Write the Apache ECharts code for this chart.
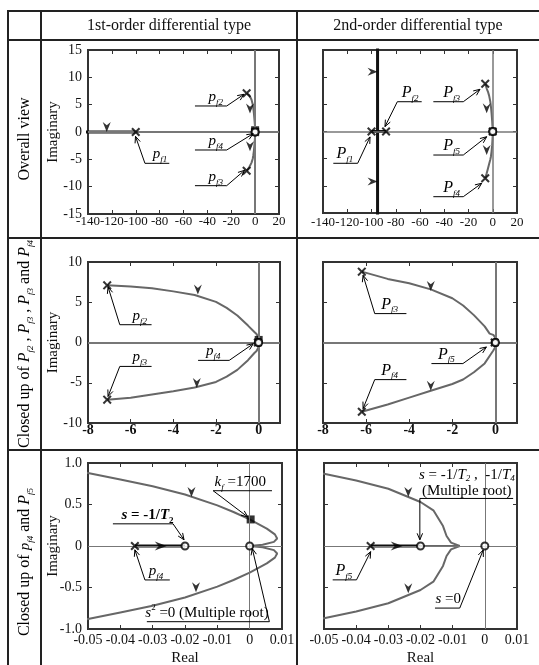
<!DOCTYPE html>
<html><head><meta charset="utf-8">
<script src="https://cdn.jsdelivr.net/npm/echarts@6/dist/echarts.min.js"></script>
<style>html,body{margin:0;padding:0;background:#fff;}#c{width:539px;height:665px;}</style>
</head><body><div id="c"></div>
<script>
// ================= DATA =================
const columnTitles = ['1st-order differential type', '2nd-order differential type'];
const rowTitles = [
  '{n|Overall view}',
  '{n|Closed up of }{I|P}{s|f2}{n| , }{I|P}{s|f3}{n| , }{I|P}{s|f3}{n| and }{I|P}{s|f4}',
  '{n|Closed up of }{i|p}{s|f4}{n| and }{I|P}{s|f5}'
];
// axis ranges [min, max, step]
const overallX = [-140, 20, 20], overallY = [-15, 15, 5];
const zoom1X = [-8, 1, 2], zoom1Y = [-10, 10, 5];
const zoom2X = [-0.05, 0.01, 0.01], zoom2Y = [-1, 1, 0.5];

// ---- 1st-order differential type ----
const A_poles = [[-100, 0], [-7.1, 7.1], [-7.1, -7.1], [-0.0355, 0]];
const A_zeros = [[-0.02, 0], [0, 0]];
const A_gainMark = [[0.0003, 0.32]];
const A_upper = [[-7.1,7.1],[-6,6.95],[-5,6.75],[-4,6.35],[-3,5.9],[-2,5.05],[-1.5,4.3],[-1,3.35],[-0.5,2.1],[-0.2,1.3],[-0.1,1.05],
  [-0.05,0.88],[-0.04,0.80],[-0.03,0.72],[-0.02,0.62],[-0.01,0.49],[-0.005,0.41],[0,0.32],[0.0053,0.21],[0.0078,0.14],[0.0085,0.09],[0.0075,0.05],[0.004,0.015],[0,0]];
const A_lower = [[-7.1,-7.1],[-6,-6.85],[-5,-6.45],[-4,-6.05],[-3,-5.6],[-2,-4.9],[-1.5,-4.25],[-1,-3.4],[-0.5,-2.2],[-0.2,-1.3],[-0.1,-1.05],
  [-0.05,-0.88],[-0.04,-0.80],[-0.03,-0.72],[-0.02,-0.62],[-0.01,-0.49],[-0.005,-0.41],[0,-0.32],[0.0053,-0.21],[0.0078,-0.14],[0.0085,-0.09],[0.0075,-0.05],[0.004,-0.015],[0,0]];
const A_realFar = [[-100, 0], [-300, 0]];
const A_realNear = [[-0.0355, 0], [-0.02, 0]];

// ---- 2nd-order differential type ----
const B_poles = [[-100, 0], [-88, 0], [-6.2, 8.8], [-6.2, -8.6], [-0.0355, 0]];
const B_zeros = [[-0.02, 0], [0, 0]];
const B_upper = [[-6.2,8.8],[-5,7.9],[-4,7.35],[-3,6.6],[-2,5.5],[-1.5,4.6],[-1,3.4],[-0.5,2.0],[-0.27,1.1],[-0.1,0.95],
  [-0.05,0.87],[-0.04,0.79],[-0.03,0.69],[-0.02,0.53],[-0.016,0.43],[-0.013,0.24],[-0.0119,0.12],[-0.0105,0.04],[-0.0078,0]];
const B_lower = [[-6.2,-8.6],[-5,-7.7],[-4,-6.85],[-3,-6.0],[-2,-5.15],[-1.5,-4.6],[-1,-3.7],[-0.5,-2.6],[-0.2,-1.4],[-0.1,-1.0],
  [-0.05,-0.87],[-0.04,-0.79],[-0.03,-0.69],[-0.02,-0.53],[-0.016,-0.43],[-0.013,-0.24],[-0.0119,-0.12],[-0.0105,-0.04],[-0.0078,0]];
const B_realPair = [[-100, 0], [-88, 0]];
const B_asymUp = [[-95, 0], [-95, 300]];
const B_asymDown = [[-95, 0], [-95, -300]];
const B_realNear = [[-0.0355, 0], [-0.02, 0]];
const B_realBreak = [[-0.02, 0], [-0.0078, 0]];

// direction arrows on the loci
const A_arrOverall = [{at:[-124.3,0],d:'down'},{at:[-4.3,3.4],d:'down'},{at:[-4.3,-3.5],d:'down'}];
const B_arrOverall = [{at:[-95,11],d:'right'},{at:[-95,-9.2],d:'right'},{at:[-5,3.35],d:'down'},{at:[-5,-4.33],d:'down'}];
const A_arrZoom1 = [{at:[-2.85,5.95],d:'down'},{at:[-2.9,-5.65],d:'down'}];
const B_arrZoom1 = [{at:[-3.0,6.4],d:'down'},{at:[-3.0,-6.0],d:'down'}];
const A_arrZoom2 = [{at:[-0.018,0.59],d:'down'},{at:[-0.0166,-0.556],d:'down'},{at:[-0.0275,0],d:'along'}];
const B_arrZoom2 = [{at:[-0.0238,0.59],d:'down'},{at:[-0.0238,-0.57],d:'down'},{at:[-0.0274,0],d:'along'}];

// callouts: underline at y from x1 to x2, arrow from left(0)/right(1) end to tip, text centered at tx
const A_annOverall = [
  {t:'{i|p}{s|f1}', y:-5.73, x1:-92.3, x2:-71.9, tip:[-100.2,-0.8], end:0, tx:-79.7},
  {t:'{i|p}{s|f2}', y:4.76, x1:-50.4, x2:-23.8, tip:[-9.3,6.9], end:1, tx:-33},
  {t:'{i|p}{s|f4}', y:-3.29, x1:-50.4, x2:-23.8, tip:[-1.6,-0.3], end:1, tx:-33},
  {t:'{i|p}{s|f3}', y:-9.82, x1:-50.4, x2:-23.8, tip:[-8.8,-7.0], end:1, tx:-33}
];
const B_annOverall = [
  {t:'{I|P}{s|f2}', y:5.48, x1:-78.7, x2:-58.6, tip:[-88.9,0.9], end:0, tx:-68.2},
  {t:'{I|P}{s|f1}', y:-5.85, x1:-131.5, x2:-111.4, tip:[-101.2,-1.0], end:1, tx:-121.9},
  {t:'{I|P}{s|f3}', y:5.48, x1:-49.0, x2:-24.3, tip:[-10.5,7.77], end:1, tx:-33.9},
  {t:'{I|P}{s|f5}', y:-4.33, x1:-49.0, x2:-24.3, tip:[-5.0,-0.96], end:1, tx:-33.9},
  {t:'{I|P}{s|f4}', y:-12.0, x1:-49.0, x2:-24.3, tip:[-9.1,-9.53], end:1, tx:-33.9}
];
const A_annZoom1 = [
  {t:'{i|p}{s|f2}', y:2.21, x1:-6.51, x2:-5.02, tip:[-7.06,6.9], end:0, tx:-5.57},
  {t:'{i|p}{s|f3}', y:-2.97, x1:-6.51, x2:-5.02, tip:[-7.06,-6.7], end:0, tx:-5.57},
  {t:'{i|p}{s|f4}', y:-2.22, x1:-2.84, x2:-1.38, tip:[-0.25,-0.15], end:1, tx:-2.13}
];
const B_annZoom1 = [
  {t:'{I|P}{s|f3}', y:3.59, x1:-5.60, x2:-4.13, tip:[-6.14,8.35], end:0, tx:-4.91},
  {t:'{I|P}{s|f4}', y:-4.61, x1:-5.60, x2:-4.13, tip:[-6.14,-8.21], end:0, tx:-4.91},
  {t:'{I|P}{s|f5}', y:-2.62, x1:-2.97, x2:-1.51, tip:[-0.42,-0.56], end:1, tx:-2.28}
];
const A_annZoom2 = [
  {t:'{i|k}{s|f}{n| =1700}', y:0.666, x1:-0.0113, x2:0.0069, tip:[-0.0006,0.35], end:0, tx:-0.0029},
  {t:'{ib|s}{nb| = -1/}{ib|T}{sb|2}', y:0.267, x1:-0.0423, x2:-0.0237, tip:[-0.0203,0.075], end:1, tx:-0.0316},
  {t:'{i|p}{s|f4}', y:-0.409, x1:-0.0324, x2:-0.0247, tip:[-0.0355,-0.046], end:0, tx:-0.029},
  {t:'{i|s}{u|2}{n| =0 (Multiple root)}', y:-0.912, x1:-0.0318, x2:0.0061, tip:[0.0008,-0.03], end:1, tx:-0.0132}
];
const B_annZoom2 = [
  {t:'{mi|s}{m| = -1/}{mi|T}{s|2}{m| ,  -1/}{mi|T}{s|4}\n{m|(Multiple root)}', y:0.573, x1:-0.0202, x2:0.0088, tip:[-0.0202,0.075], end:0, tx:-0.0056},
  {t:'{I|P}{s|f5}', y:-0.408, x1:-0.0473, x2:-0.0399, tip:[-0.0355,-0.068], end:1, tx:-0.0438},
  {t:'{i|s}{n| =0}', y:-0.748, x1:-0.0155, x2:-0.0078, tip:[-0.0005,-0.048], end:1, tx:-0.0114}
];

// ================= CHART =================
const serif = '"Liberation Serif", "Times New Roman", serif';
const chart = echarts.init(document.getElementById('c'), null, {width:539, height:665});

const sys = {
  A: {poles:A_poles, zeros:A_zeros, gain:A_gainMark, gray:[A_upper, A_lower], black:[A_realFar, A_realNear]},
  B: {poles:B_poles, zeros:B_zeros, gain:[], gray:[B_upper, B_lower, B_realBreak], black:[B_realPair, B_asymUp, B_asymDown, B_realNear]}
};

const panels = [
  {s:'A', g:[88,50,191,164], xr:overallX, yr:overallY, yLab:true, bold:false, zw:2, arr:A_arrOverall, ann:A_annOverall, xm:1, xf:13},
  {s:'B', g:[323,50,194,163], xr:overallX, yr:overallY, yLab:false, bold:false, zw:1.5, arr:B_arrOverall, ann:B_annOverall, xm:3, xf:13},
  {s:'A', g:[88,262,192,161], xr:zoom1X, yr:zoom1Y, yLab:true, bold:true, zw:2, arr:A_arrZoom1, ann:A_annZoom1, xm:0, xf:14},
  {s:'B', g:[323,262,194,161], xr:zoom1X, yr:zoom1Y, yLab:false, bold:true, zw:2, arr:B_arrZoom1, ann:B_annZoom1, xm:0, xf:14},
  {s:'A', g:[88,463,194,166], xr:zoom2X, yr:zoom2Y, yLab:true, bold:false, zw:1, arr:A_arrZoom2, ann:A_annZoom2, xm:4, xf:14},
  {s:'B', g:[324,463,193,166], xr:zoom2X, yr:zoom2Y, yLab:false, bold:false, zw:1, arr:B_arrZoom2, ann:B_annZoom2, xm:4, xf:14}
];

function onStep(v, r){ const k = (v - r[0]) / r[2]; return Math.abs(k - Math.round(k)) < 1e-6; }
function fmtX(r){ return v => { if(!onStep(v,r)) return ''; if (Math.abs(v) < 1e-12) return '0'; return String(+v.toFixed(4)); }; }
function fmtY(r){ return v => { if(!onStep(v,r)) return ''; if (Math.abs(v) < 1e-12) return '0'; return r[2] < 1 ? v.toFixed(1) : String(v); }; }

const arrowSym = {
  down:  {symbol:'path://M0,0 L5,4 L10,0 L5,12 Z', size:[8,10], off:[0,-5]},
  right: {symbol:'path://M0,0 L12,5 L0,10 L4,5 Z', size:[10,8], off:[-5,0]},
  along: {symbol:'path://M0,0 L12,5 L0,10 L4,5 Z', size:[12,9], off:[0,0]}
};
const xMark = 'path://M0,1.6 L1.6,0 L5,3.4 L8.4,0 L10,1.6 L6.6,5 L10,8.4 L8.4,10 L5,6.6 L1.6,10 L0,8.4 L3.4,5 Z';

const grids = [], xAxes = [], yAxes = [], series = [], firstSeries = [];
const tick = {show:true, inside:true, length:4, lineStyle:{color:'#333', width:1}};
panels.forEach((p, i) => {
  grids.push({left:p.g[0], top:p.g[1], width:p.g[2], height:p.g[3], show:true, borderColor:'#333', borderWidth:2, containLabel:false});
  const common = {gridIndex:i, type:'value', splitLine:{show:false}, axisLine:{show:false, onZero:false}, axisTick:tick};
  xAxes.push(Object.assign({}, common, {position:'bottom', min:p.xr[0], max:p.xr[1], interval:p.xr[2],
    axisLabel:{show:true, margin:p.xm, showMinLabel:true, showMaxLabel:true, hideOverlap:false, fontFamily:serif, fontSize:p.xf, color:'#111', fontWeight:p.bold?'bold':'normal', formatter:fmtX(p.xr)}}));
  xAxes.push(Object.assign({}, common, {position:'top', min:p.xr[0], max:p.xr[1], interval:p.xr[2], axisLabel:{show:false}}));
  yAxes.push(Object.assign({}, common, {position:'left', min:p.yr[0], max:p.yr[1], interval:p.yr[2],
    axisLabel:{show:p.yLab, margin:6, showMinLabel:true, showMaxLabel:true, fontFamily:serif, fontSize:14, color:'#111', formatter:fmtY(p.yr)}}));
  yAxes.push(Object.assign({}, common, {position:'right', min:p.yr[0], max:p.yr[1], interval:p.yr[2], axisLabel:{show:false}}));
  const ax = {xAxisIndex:2*i, yAxisIndex:2*i};
  const S = sys[p.s];
  firstSeries.push(series.length);
  series.push(Object.assign({type:'scatter', data:[], z:1, silent:true,
    markLine:{silent:true, symbol:'none', label:{show:false}, lineStyle:{color:'#777', width:p.zw, type:'solid'}, data:[{xAxis:0},{yAxis:0}]}}, ax));
  S.gray.forEach(d => series.push(Object.assign({type:'line', data:d, showSymbol:false, clip:true, z:2,
    lineStyle:{color:'#676767', width:2}}, ax)));
  S.black.forEach(d => series.push(Object.assign({type:'line', data:d, showSymbol:false, clip:true, z:3,
    lineStyle:{color:'#111', width:3}}, ax)));
  series.push(Object.assign({type:'scatter', data:S.gain, symbol:'rect', symbolSize:8, z:4, itemStyle:{color:'#000'}}, ax));
  series.push(Object.assign({type:'scatter', data:S.poles, symbol:xMark, symbolSize:9, z:5, itemStyle:{color:'#000'}}, ax));
  series.push(Object.assign({type:'scatter', data:S.zeros, symbol:'circle', symbolSize:7, z:6,
    itemStyle:{color:'#fff', borderColor:'#000', borderWidth:2}}, ax));
  series.push(Object.assign({type:'scatter', z:5, itemStyle:{color:'#000'},
    data:p.arr.map(a => ({value:a.at, symbol:arrowSym[a.d].symbol, symbolSize:arrowSym[a.d].size, symbolOffset:arrowSym[a.d].off}))}, ax));
});

chart.setOption({animation:false, backgroundColor:'#fff', grid:grids, xAxis:xAxes, yAxis:yAxes, series:series});

// ---------- table, titles, callouts ----------
const rich = {
  n:  {fontFamily:serif, fontSize:15, lineHeight:20, color:'#111'},
  m:  {fontFamily:serif, fontSize:15, lineHeight:16, color:'#111'},
  mi: {fontFamily:serif, fontSize:15, lineHeight:16, fontStyle:'italic', color:'#111'},
  nb: {fontFamily:serif, fontSize:15, lineHeight:20, fontWeight:'bold', color:'#111'},
  i:  {fontFamily:serif, fontSize:15, lineHeight:20, fontStyle:'italic', color:'#111'},
  ib: {fontFamily:serif, fontSize:15, lineHeight:20, fontStyle:'italic', fontWeight:'bold', color:'#111'},
  I:  {fontFamily:serif, fontSize:16, lineHeight:20, fontStyle:'italic', color:'#111'},
  s:  {fontFamily:serif, fontSize:9, lineHeight:9, fontStyle:'italic', verticalAlign:'bottom', color:'#111'},
  sb: {fontFamily:serif, fontSize:9, lineHeight:9, fontWeight:'bold', verticalAlign:'bottom', color:'#111'},
  u:  {fontFamily:serif, fontSize:9, lineHeight:9, verticalAlign:'top', color:'#111'}
};
const G = [];
const lc = '#222';
[11, 40, 238, 450].forEach(y => G.push({type:'line', shape:{x1:7, y1:y, x2:539, y2:y}, style:{stroke:lc, lineWidth:2}}));
[8, 41, 297].forEach(x => G.push({type:'line', shape:{x1:x, y1:10, x2:x, y2:665}, style:{stroke:lc, lineWidth:2}}));
G.push({type:'text', x:169, y:26, style:{text:columnTitles[0], font:'16px ' + serif, fill:'#111', align:'center', verticalAlign:'middle'}});
G.push({type:'text', x:418, y:26, style:{text:columnTitles[1], font:'16px ' + serif, fill:'#111', align:'center', verticalAlign:'middle'}});
const rowY = [139, 344, 562];
rowTitles.forEach((t, k) => G.push({type:'text', x:25, y:rowY[k], rotation:Math.PI/2,
  style:{text:t, rich:Object.assign({}, rich, {n:Object.assign({}, rich.n, {fontSize:16})}), align:'center', verticalAlign:'middle'}}));
[0, 2, 4].forEach(i => {
  const g = panels[i].g;
  G.push({type:'text', x:53, y:g[1] + g[3]/2, rotation:Math.PI/2, style:{text:'Imaginary', font:'15px ' + serif, fill:'#111', align:'center', verticalAlign:'middle'}});
});
[4, 5].forEach(i => {
  const g = panels[i].g;
  G.push({type:'text', x:g[0] + g[2]/2, y:658, style:{text:'Real', font:'15px ' + serif, fill:'#111', align:'center', verticalAlign:'middle'}});
});

function headLines(from, to){
  const a = Math.atan2(to[1]-from[1], to[0]-from[0]);
  const L = 7, s = 0.4;
  return {type:'polyline', shape:{points:[[to[0]-L*Math.cos(a-s), to[1]-L*Math.sin(a-s)], to, [to[0]-L*Math.cos(a+s), to[1]-L*Math.sin(a+s)]]},
    style:{stroke:'#000', lineWidth:1, fill:null}, z:10};
}
panels.forEach((p, i) => {
  const conv = pt => chart.convertToPixel({seriesIndex:firstSeries[i]}, pt);
  p.ann.forEach(a => {
    const p1 = conv([a.x1, a.y]), p2 = conv([a.x2, a.y]), tip = conv(a.tip), tc = conv([a.tx, a.y]);
    const st = a.end === 0 ? p1 : p2;
    G.push({type:'line', shape:{x1:p1[0], y1:p1[1], x2:p2[0], y2:p2[1]}, style:{stroke:'#000', lineWidth:1}, z:10});
    G.push({type:'line', shape:{x1:st[0], y1:st[1], x2:tip[0], y2:tip[1]}, style:{stroke:'#000', lineWidth:1}, z:10});
    G.push(headLines(st, tip));
    G.push({type:'text', x:tc[0], y:p1[1] + 1, z:10, style:{text:a.t, rich:rich, align:'center', verticalAlign:'bottom'}});
  });
});
chart.setOption({graphic:{elements:G}});
</script>
</body></html>
